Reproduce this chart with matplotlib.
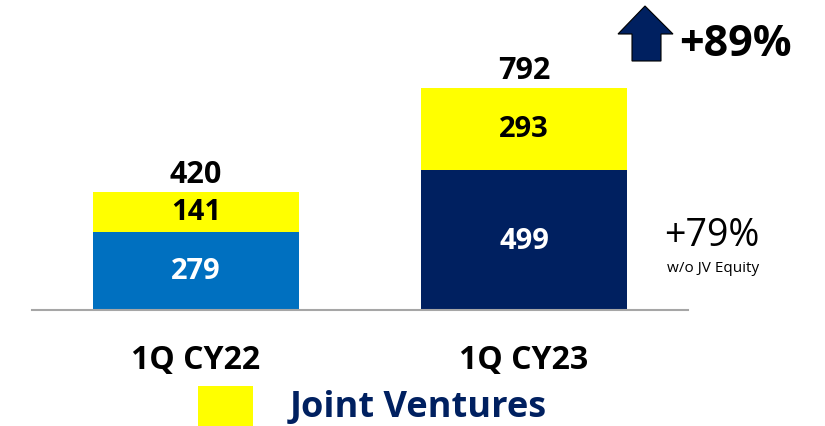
import matplotlib.pyplot as plt
from matplotlib.patches import Polygon, Rectangle

plt.rcParams['font.family'] = ['Open Sans', 'DejaVu Sans']

categories = ['1Q CY22', '1Q CY23']
base_values = [279, 499]
jv_values = [141, 293]
totals = [420, 792]
base_colors = ['#0070C0', '#002060']
jv_color = '#FFFF00'
navy = '#002060'

W, H = 825, 427
fig = plt.figure(figsize=(W / 100, H / 100), dpi=100)
ax = fig.add_axes([32 / W, (H - 311) / H, 656 / W, 311 / H])

x = list(range(len(categories)))
bw = 0.628
ax.bar(x, base_values, width=bw, color=base_colors)
ax.bar(x, jv_values, width=bw, bottom=base_values, color=jv_color)

for i in x:
    ax.text(i, base_values[i] / 2, str(base_values[i]), ha='center', va='center',
            color='white', fontsize=21, fontweight='bold')
    ax.text(i, base_values[i] + jv_values[i] / 2, str(jv_values[i]), ha='center',
            va='center', color='black', fontsize=21, fontweight='bold')
    ax.text(i, totals[i] + 12, str(totals[i]), ha='center', va='bottom',
            color='black', fontsize=22, fontweight='bold')

ax.set_xlim(-0.5, 1.5)
ax.set_ylim(0, 1109)
for s in ['top', 'right', 'left']:
    ax.spines[s].set_visible(False)
ax.spines['bottom'].set_color('#A6A6A6')
ax.spines['bottom'].set_linewidth(1.5)
ax.set_yticks([])
ax.set_xticks(x)
ax.set_xticklabels(categories, fontsize=23, fontweight='bold')
ax.tick_params(axis='x', length=0, pad=24)


def fx(px):
    return px / W


def fy(py):
    return 1 - py / H


# up arrow
arrow = [(632, 62), (632, 35), (618, 35), (645, 7), (673, 35), (661, 35), (661, 62)]
fig.patches.append(Polygon([(fx(a), fy(b)) for a, b in arrow], closed=True,
                           facecolor=navy, edgecolor='black', linewidth=0.8,
                           transform=fig.transFigure))
fig.text(fx(679), fy(44), '+89%', fontsize=31, fontweight='bold', va='center')

fig.text(fx(664), fy(236), '+79%', fontsize=27, va='center')
fig.text(fx(667), fy(268), 'w/o JV Equity', fontsize=11, va='center')

# legend
fig.patches.append(Rectangle((fx(198), fy(427)), 55 / W, 40 / H, facecolor=jv_color,
                             transform=fig.transFigure))
fig.text(fx(290), fy(408), 'Joint Ventures', fontsize=26, fontweight='bold',
         color=navy, va='center')

fig.savefig('out.png', dpi=100)
